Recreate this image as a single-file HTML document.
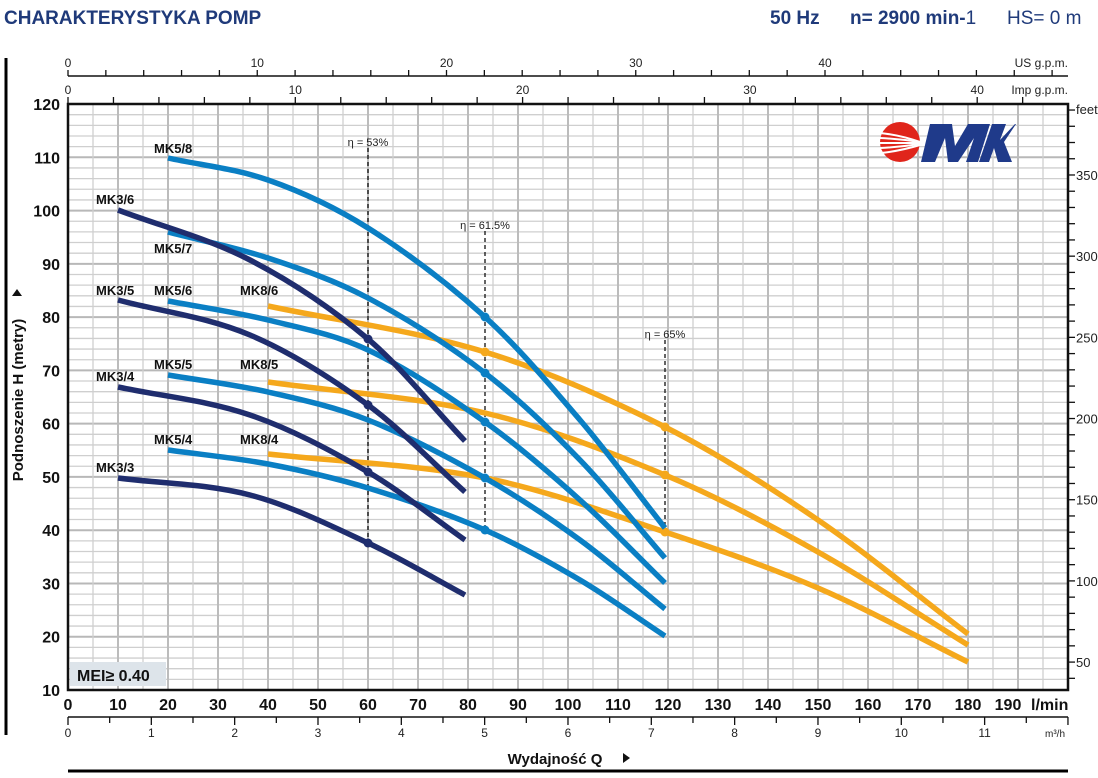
<!DOCTYPE html>
<html><head><meta charset="utf-8"><style>
body{margin:0;background:#fff;}
svg{display:block;font-family:"Liberation Sans",sans-serif;}
</style></head><body>
<svg id="s" width="1098" height="778" viewBox="0 0 1098 778" xmlns="http://www.w3.org/2000/svg">
<text x="4" y="24" font-size="19" font-weight="bold" fill="#1f3a7a">CHARAKTERYSTYKA POMP</text>
<text x="770" y="24" font-size="19" font-weight="bold" fill="#1f3a7a">50 Hz</text>
<text x="850" y="24" font-size="19" font-weight="bold" fill="#1f3a7a">n= 2900 min-<tspan font-weight="normal">1</tspan></text>
<text x="1007" y="24" font-size="19" fill="#1f3a7a">HS= 0 m</text>
<line x1="6" y1="58" x2="6" y2="735" stroke="#000" stroke-width="3"/>
<g id="grid"></g>
<g id="axes"></g>
<g id="curves"></g>
<rect x="70" y="662" width="96" height="24" fill="#dde4ea"/>
<text x="77" y="681" font-size="16" font-weight="bold" fill="#111">MEI≥ 0.40</text>
<g>
<circle cx="900" cy="142" r="20" fill="#e0251b"/>
<g stroke="#fff" stroke-width="2" fill="none">
<path d="M880 133 Q900 135 920 142"/><path d="M880 138 Q900 139 920 142"/><path d="M880 143 Q900 143 920 143"/><path d="M880 148 Q900 147 920 144"/><path d="M881 153 Q900 151 920 145"/>
</g>
<polygon points="930,124 952,124 955,146 968,124 990,124 978,162 966,162 974,138 958,162 948,162 945,138 935,162 921,162" fill="#1f3a8a"/>
<polygon points="992,124 1006,124 1000,140 1015,124 1016,124 1004,142 1012,162 998,162 994,148 989,162 979,162" fill="#1f3a8a"/>
</g>
<text x="555" y="764" font-size="15" font-weight="bold" text-anchor="middle" fill="#111">Wydajność Q</text>
<polygon points="623,753 623,763 630,758" fill="#111"/>
<line x1="68" y1="771" x2="1068" y2="771" stroke="#000" stroke-width="3"/>
<g transform="translate(23,400) rotate(-90)"><text x="0" y="0" font-size="15" font-weight="bold" text-anchor="middle" fill="#111">Podnoszenie H  (metry)</text><polygon points="104,-11 104,-1 111,-6" fill="#111"/></g>
</svg>
<script>
const NS="http://www.w3.org/2000/svg";
function el(p,t,a,txt){const e=document.createElementNS(NS,t);for(const k in a)e.setAttribute(k,a[k]);if(txt!==undefined)e.textContent=txt;document.getElementById(p).appendChild(e);return e;}
const X=q=>68+q*5, Y=h=>690-(h-10)*5.327;
for(let h=10;h<=120;h+=2){const m=h%10==0;el('grid','line',{x1:68,x2:1068,y1:Y(h),y2:Y(h),stroke:m?'#b8b8b8':'#cfcfcf','stroke-width':m?2:1.3});}
for(let q=0;q<=200;q+=5){const m=q%10==0;el('grid','line',{x1:X(q),x2:X(q),y1:104,y2:690,stroke:m?'#bcbcbc':'#cfcfcf','stroke-width':m?2:1.3});}
el('axes','rect',{x:68,y:104,width:1000,height:586,fill:'none',stroke:'#111','stroke-width':2.5});
for(let h=10;h<=120;h+=10)el('axes','text',{x:60,y:Y(h)+6,'font-size':16,'font-weight':'bold','text-anchor':'end',fill:'#111'},h);
for(let q=0;q<=190;q+=10)el('axes','text',{x:X(q)+(q==190?-10:0),y:710,'font-size':16,'font-weight':'bold','text-anchor':'middle',fill:'#111'},q);
el('axes','text',{x:1031,y:710,'font-size':16,'font-weight':'bold',fill:'#111'},'l/min');
el('axes','line',{x1:68,x2:1068,y1:717,y2:717,stroke:'#111','stroke-width':1.5});
for(let m=0;m<=12;m+=0.5){const x=68+m*83.33;if(x>1068)break;el('axes','line',{x1:x,x2:x,y1:717,y2:m%1==0?725:723,stroke:'#111','stroke-width':1.3});if(m%1==0&&m<=11)el('axes','text',{x:x,y:737,'font-size':12,'text-anchor':'middle',fill:'#222'},m);}
el('axes','text',{x:1045,y:737,'font-size':10,fill:'#222'},'m³/h');
el('axes','line',{x1:68,x2:1068,y1:76,y2:76,stroke:'#111','stroke-width':1.5});
for(let g=0;g<=52;g+=2){const x=68+g*3.785*5;if(x>1068)break;el('axes','line',{x1:x,x2:x,y1:70,y2:76,stroke:'#111','stroke-width':1.3});if(g%10==0&&g<=40)el('axes','text',{x:x,y:67,'font-size':12,'text-anchor':'middle',fill:'#222'},g);}
el('axes','text',{x:1068,y:67,'font-size':12,'text-anchor':'end',fill:'#222'},'US g.p.m.');
for(let g=0;g<=44;g+=2){const x=68+g*4.546*5;if(x>1068)break;el('axes','line',{x1:x,x2:x,y1:97,y2:104,stroke:'#111','stroke-width':1.3});if(g%10==0)el('axes','text',{x:x,y:94,'font-size':12,'text-anchor':'middle',fill:'#222'},g);}
el('axes','text',{x:1068,y:94,'font-size':12,'text-anchor':'end',fill:'#222'},'Imp g.p.m.');
for(let f=40;f<=390;f+=10){const y=Y(f*0.3048);if(y<104||y>690)continue;el('axes','line',{x1:1068,x2:1075,y1:y,y2:y,stroke:'#111','stroke-width':1.3});if(f%50==0)el('axes','text',{x:1076,y:y+5,'font-size':13,fill:'#222'},f);}
el('axes','text',{x:1076,y:114,'font-size':13,fill:'#222'},'feet');
[[368,148,545,'η = 53%'],[485,231,530,'η = 61.5%'],[665,340,530,'η = 65%']].forEach(e=>{el('curves','line',{x1:e[0],x2:e[0],y1:e[1],y2:e[2],stroke:'#111','stroke-width':1.3,'stroke-dasharray':'4,3'});el('curves','text',{x:e[0],y:e[1]-2,'font-size':11,'text-anchor':'middle',fill:'#222'},e[3]);});
function cr(p){let d='M'+p[0][0]+' '+p[0][1];for(let i=0;i<p.length-1;i++){const p0=p[i-1]||p[i],p1=p[i],p2=p[i+1],p3=p[i+2]||p2;const h=p2[0]-p1[0];const s1=(p2[1]-p0[1])/(p2[0]-p0[0]||1),s2=(p3[1]-p1[1])/(p3[0]-p1[0]||1);d+=' C'+(p1[0]+h/3)+' '+(p1[1]+s1*h/3)+' '+(p2[0]-h/3)+' '+(p2[1]-s2*h/3)+' '+p2[0]+' '+p2[1];}return d;}
const NV='#1f2d6e',BL='#0a7fc4',OR='#f5a81c';
const C=[
[OR,[[268,306],[485,352],[665,427],[818,520],[968,634]],[485,665]],
[OR,[[268,382],[485,413],[665,475],[818,552],[968,645]],[665]],
[OR,[[268,454],[485,478],[665,532],[818,588],[968,662]],[665]],
[BL,[[168,158],[268,180],[368,228],[485,317],[580,420],[665,528]],[485]],
[BL,[[168,232],[268,258],[368,298],[485,373],[580,460],[665,558]],[485]],
[BL,[[168,301],[268,320],[368,350],[485,422],[580,500],[665,583]],[485]],
[BL,[[168,375],[268,392],[368,420],[485,478],[580,540],[665,609]],[485]],
[BL,[[168,450],[268,464],[368,488],[485,530],[580,580],[665,636]],[485]],
[NV,[[118,210],[250,260],[368,339],[465,441]],[368]],
[NV,[[118,300],[250,335],[368,405],[465,492]],[368]],
[NV,[[118,387],[250,415],[368,472],[465,540]],[368]],
[NV,[[118,478],[250,495],[368,543],[465,595]],[368]]];
C.forEach(c=>{const p=c[1];el('curves','path',{d:cr(p),fill:'none',stroke:c[0],'stroke-width':5.5});
c[2].forEach(x=>{for(let i=0;i<p.length-1;i++)if(p[i][0]<=x&&p[i+1][0]>=x){const t=(x-p[i][0])/(p[i+1][0]-p[i][0]);const y=p[i][1]+t*(p[i+1][1]-p[i][1]);el('curves','circle',{cx:x,cy:y,r:4.5,fill:c[0]});break;}});});
[['MK5/8',154,153],['MK3/6',96,204],['MK5/7',154,253],['MK3/5',96,295],['MK5/6',154,295],['MK8/6',240,295],['MK5/5',154,369],['MK8/5',240,369],['MK3/4',96,381],['MK5/4',154,444],['MK8/4',240,444],['MK3/3',96,472]].forEach(l=>el('curves','text',{x:l[1],y:l[2],'font-size':13,'font-weight':'bold',fill:'#111'},l[0]));
</script>
</body></html>
